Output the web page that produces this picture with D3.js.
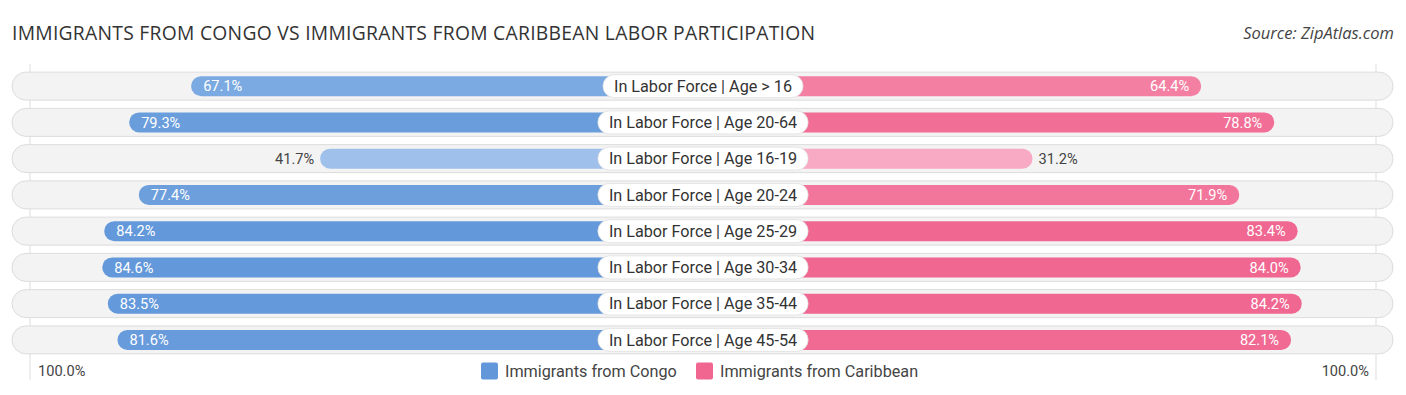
<!DOCTYPE html>
<html><head><meta charset="utf-8">
<script src="https://cdn.jsdelivr.net/npm/d3@7"></script>
<style>body{margin:0;background:#fff}</style>
</head><body>
<svg id="c" width="1406" height="395"></svg>
<script>
const categories = ["In Labor Force | Age > 16","In Labor Force | Age 20-64","In Labor Force | Age 16-19","In Labor Force | Age 20-24","In Labor Force | Age 25-29","In Labor Force | Age 30-34","In Labor Force | Age 35-44","In Labor Force | Age 45-54"];
const congo = [67.1,79.3,41.7,77.4,84.2,84.6,83.5,81.6];
const caribbean = [64.4,78.8,31.2,71.9,83.4,84.0,84.2,82.1];
const seriesNames = ["Immigrants from Congo","Immigrants from Caribbean"];
const axisLabels = ["100.0%","100.0%"];
const title = "IMMIGRANTS FROM CONGO VS IMMIGRANTS FROM CARIBBEAN LABOR PARTICIPATION";
const source = "Source: ZipAtlas.com";

const svg = d3.select("#c");
const cx = 703;
const w = d3.scaleLinear().domain([0,100]).range([171,679]);
const y = d3.scaleBand().domain(categories).range([68,358]).paddingInner(0.22).paddingOuter(0.11);
const blueC = d3.scaleLinear().domain([30,85]).range(["#aecbee","#6298da"]);
const pinkC = d3.scaleLinear().domain([30,85]).range(["#f8abc4","#f06690"]);

svg.append("text").attr("x",12).attr("y",40).attr("font-family","'Open Sans',sans-serif").attr("font-size",19.3).attr("fill","#333")
  .attr("textLength",803).attr("lengthAdjust","spacing").text(title);
svg.append("text").attr("x",1394).attr("y",39).attr("text-anchor","end").attr("font-family","'Open Sans',sans-serif").attr("font-style","italic").attr("font-size",16.5).attr("fill","#444").text(source);

// gridlines at 100%
[30, 1376].forEach(x=>{
  svg.append("line").attr("x1",x).attr("x2",x).attr("y1",64).attr("y2",380).attr("stroke","#ddd").attr("stroke-width",1);
});

const rowH = 28, barH = 20;
const g = svg.selectAll("g.row").data(categories).join("g").attr("class","row")
  .attr("transform",d=>`translate(0,${y(d)+y.bandwidth()/2})`);
g.append("rect").attr("x",12).attr("y",-rowH/2).attr("width",1381).attr("height",rowH).attr("rx",14)
  .attr("fill","#f3f3f3").attr("stroke","#dcdcdc").attr("stroke-width",1);
g.append("rect").attr("x",(d,i)=>cx-w(congo[i])).attr("y",-barH/2).attr("width",(d,i)=>w(congo[i])).attr("height",barH).attr("rx",10)
  .attr("fill",(d,i)=>blueC(congo[i]));
g.append("rect").attr("x",cx).attr("y",-barH/2).attr("width",(d,i)=>w(caribbean[i])).attr("height",barH).attr("rx",10)
  .attr("fill",(d,i)=>pinkC(caribbean[i]));
// value labels
g.append("text").attr("font-family","Roboto,sans-serif").attr("font-size",14.6).attr("dy","0.35em")
  .attr("x",(d,i)=>congo[i]>50 ? cx-w(congo[i])+12 : cx-w(congo[i])-6)
  .attr("text-anchor",(d,i)=>congo[i]>50?"start":"end")
  .attr("fill",(d,i)=>congo[i]>50?"#fff":"#444")
  .text((d,i)=>congo[i].toFixed(1)+"%");
g.append("text").attr("font-family","Roboto,sans-serif").attr("font-size",14.6).attr("dy","0.35em")
  .attr("x",(d,i)=>caribbean[i]>50 ? cx+w(caribbean[i])-12 : cx+w(caribbean[i])+6)
  .attr("text-anchor",(d,i)=>caribbean[i]>50?"end":"start")
  .attr("fill",(d,i)=>caribbean[i]>50?"#fff":"#444")
  .text((d,i)=>caribbean[i].toFixed(1)+"%");
// category pills
g.each(function(d){
  const gg = d3.select(this);
  const t = gg.append("text").attr("x",cx).attr("dy","0.35em").attr("text-anchor","middle")
    .attr("font-family","Roboto,sans-serif").attr("font-size",16.2).attr("fill","#333").text(d);
  const bw = t.node().getComputedTextLength()+22;
  gg.insert("rect","text:last-of-type").attr("x",cx-bw/2).attr("y",-11.5).attr("width",bw).attr("height",23).attr("rx",11.5)
    .attr("fill","#fff").attr("stroke","#e0e0e0").attr("stroke-width",0.8);
  t.raise();
});

// bottom axis labels & legend
const ly = 371;
svg.append("text").attr("x",38).attr("y",ly).attr("dy","0.35em").attr("font-family","Roboto,sans-serif").attr("font-size",14.6).attr("fill","#444").text(axisLabels[0]);
svg.append("text").attr("x",1369).attr("y",ly).attr("dy","0.35em").attr("text-anchor","end").attr("font-family","Roboto,sans-serif").attr("font-size",14.6).attr("fill","#444").text(axisLabels[1]);
const legX = [481,696], legC = ["#6298da","#f06690"];
seriesNames.forEach((s,i)=>{
  svg.append("rect").attr("x",legX[i]).attr("y",ly-8.5).attr("width",17).attr("height",17).attr("rx",2).attr("fill",legC[i]);
  svg.append("text").attr("x",legX[i]+24).attr("y",ly).attr("dy","0.35em").attr("font-family","Roboto,sans-serif").attr("font-size",16.2).attr("fill","#444").text(s);
});
</script>
</body></html>
